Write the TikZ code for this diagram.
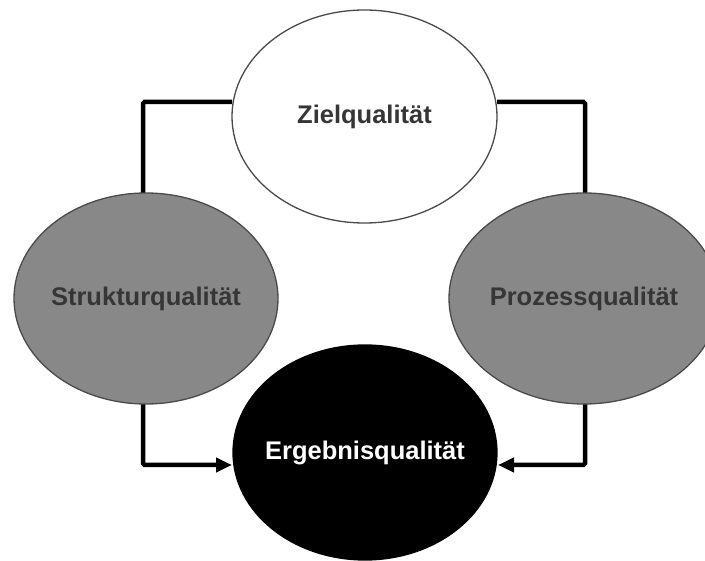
\documentclass[tikz,border=0pt]{standalone}
\usepackage{fontspec}
\setmainfont{Liberation Sans}
\usetikzlibrary{shapes.geometric,arrows.meta,backgrounds}
\definecolor{midgray}{HTML}{888888}
\definecolor{rimgray}{HTML}{4A4A4A}
\definecolor{txtgray}{HTML}{363636}
\begin{document}
\begin{tikzpicture}[x=1pt,y=-1pt,
  qual/.style={ellipse,draw=rimgray,line width=1.3pt,inner xsep=-30pt,inner ysep=0pt,outer sep=0pt,
    font=\fontsize{25.5}{30}\selectfont\bfseries},
  conn/.style={line width=4.5pt,draw=black,rounded corners=1.5pt},
  tip/.style={-{Triangle[length=16pt,width=14pt]}}]
\useasboundingbox (0,0) rectangle (705,561);
\node[qual,fill=white,text=txtgray,minimum width=265pt,minimum height=213pt] (z) at (364.5,116.5) {Zielqualität};
\node[qual,fill=midgray,text=txtgray,minimum width=264pt,minimum height=211pt] (s) at (146,298.5) {Strukturqualität};
\node[qual,fill=midgray,text=txtgray,minimum width=270pt,minimum height=211pt] (p) at (584,298.5) {Prozessqualität};
\node[qual,fill=black,draw=black,text=white,minimum width=264pt,minimum height=215pt] (e) at (365,452.5) {Ergebnisqualität};
\begin{pgfonlayer}{background}
\fill[white] (0,0) rectangle (705,561);
\draw[conn] ([xshift=-3pt]s.north) |- ([yshift=14.5pt]z.west);
\draw[conn] ([yshift=14.5pt]z.east) -| ([xshift=1pt]p.north);
\draw[conn,tip] ([xshift=-3pt]s.south) |- ([yshift=-12.5pt,xshift=-1pt]e.west);
\draw[conn,tip] ([xshift=1pt]p.south) |- ([yshift=-12.5pt,xshift=1pt]e.east);
\end{pgfonlayer}
\end{tikzpicture}
\end{document}
